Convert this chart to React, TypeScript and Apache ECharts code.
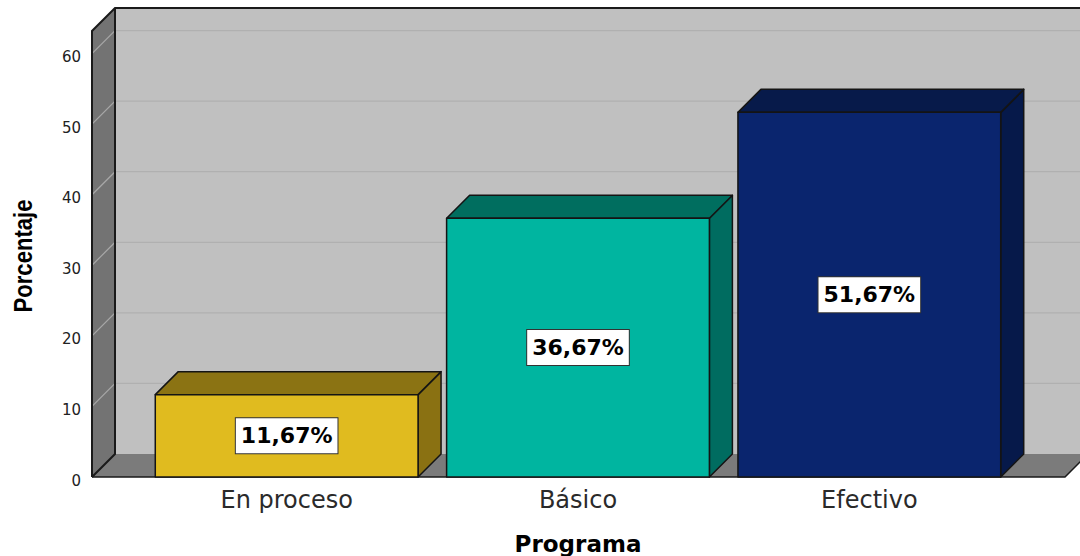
import React, { useEffect, useRef } from 'react';
import * as echarts from 'echarts';

const categories = ['En proceso', 'Básico', 'Efectivo'];
const percentages = [11.67, 36.67, 51.67];
const yTicks = [0, 10, 20, 30, 40, 50, 60];
const yMax = 63.2;
const xTitle = 'Programa';
const yTitle = 'Porcentaje';
const frontColors = ['#E0BB1F', '#00B5A0', '#0A256E'];
const topColors = ['#8B7313', '#006E5F', '#071A4A'];
const sideColors = ['#8A7112', '#006C60', '#06194A'];

const DEPTH = 23;
const PAD_L = 49;
const PAD_R = 50;

const fmt = (v: number) => v.toFixed(2).replace('.', ',') + '%';

export default function App() {
  const ref = useRef<HTMLDivElement>(null);
  useEffect(() => {
    const chart = echarts.init(ref.current!, null, { renderer: 'svg' });
    const wallsSeries: any = {
      type: 'custom',
      coordinateSystem: 'cartesian2d',
      clip: false,
      silent: true,
      z: 1,
      data: [[0, 0]],
      encode: { x: 0, y: 1 },
      renderItem: (params: any, api: any) => {
        const cs = params.coordSys;
        const D = DEPTH;
        const x0 = cs.x - PAD_L;
        const x1 = cs.x + cs.width + PAD_R;
        const yb = cs.y + cs.height;
        const yt = cs.y;
        const children: any[] = [];
        children.push({
          type: 'rect',
          shape: { x: x0 + D, y: yt - D, width: x1 - x0 + 30, height: yb - yt },
          style: { fill: '#C0C0C0' },
        });
        children.push({
          type: 'polygon',
          shape: { points: [[x0, yb], [x0, yt], [x0 + D, yt - D], [x0 + D, yb - D]] },
          style: { fill: '#737373' },
        });
        yTicks.forEach((t) => {
          const y = api.coord([0, t])[1];
          children.push({
            type: 'text',
            x: x0 - 11,
            y: y + 3.5,
            style: {
              text: String(t),
              font: '15px "DejaVu Sans"',
              fill: '#222',
              align: 'right',
              verticalAlign: 'middle',
            },
          });
          if (t === 0) return;
          children.push({
            type: 'line',
            shape: { x1: x0, y1: y, x2: x0 + D, y2: y - D },
            style: { stroke: '#A8A8A8', lineWidth: 1.2 },
          });
          children.push({
            type: 'line',
            shape: { x1: x0 + D, y1: y - D, x2: x1 + D + 30, y2: y - D },
            style: { stroke: '#B0B0B0', lineWidth: 1.3 },
          });
        });
        children.push({
          type: 'polygon',
          shape: { points: [[x0, yb], [x0 + D, yb - D], [x1 + D, yb - D], [x1, yb]] },
          style: { fill: '#7B7B7B' },
        });
        children.push({
          type: 'polyline',
          shape: { points: [[x0, yb], [x1, yb], [x1 + D, yb - D]] },
          style: { stroke: '#1A1A1A', lineWidth: 1.5, fill: null },
        });
        children.push({
          type: 'polyline',
          shape: { points: [[x0, yb], [x0, yt], [x0 + D, yt - D], [x1 + D + 30, yt - D]] },
          style: { stroke: '#1A1A1A', lineWidth: 2, fill: null },
        });
        children.push({
          type: 'polyline',
          shape: { points: [[x0 + D, yt - D], [x0 + D, yb - D], [x0, yb]] },
          style: { stroke: '#1A1A1A', lineWidth: 2, fill: null },
        });
        return { type: 'group', children };
      },
    };

    const barsSeries: any = {
      type: 'custom',
      coordinateSystem: 'cartesian2d',
      clip: false,
      z: 2,
      data: percentages.map((v, i) => [i, v]),
      encode: { x: 0, y: 1 },
      renderItem: (params: any, api: any) => {
        const i = api.value(0);
        const v = api.value(1);
        const D = DEPTH;
        const top = api.coord([i, v]);
        const base = api.coord([i, 0]);
        const band = api.size([1, 0])[0];
        const w = band * 0.902;
        const l = top[0] - w / 2;
        const r = top[0] + w / 2;
        const yt = top[1];
        const yb = base[1];
        const idx = params.dataIndex;
        const stroke = { stroke: '#141414', lineWidth: 1.5, lineJoin: 'round' };
        return {
          type: 'group',
          children: [
            {
              type: 'polygon',
              shape: { points: [[r, yb], [r, yt], [r + D, yt - D], [r + D, yb - D]] },
              style: { fill: sideColors[idx], ...stroke },
            },
            {
              type: 'polygon',
              shape: { points: [[l, yt], [l + D, yt - D], [r + D, yt - D], [r, yt]] },
              style: { fill: topColors[idx], ...stroke },
            },
            {
              type: 'rect',
              shape: { x: l, y: yt, width: w, height: yb - yt },
              style: { fill: frontColors[idx], ...stroke },
            },
            {
              type: 'text',
              x: top[0],
              y: (yt + yb) / 2,
              style: {
                text: fmt(v),
                font: 'bold 22px "DejaVu Sans"',
                fill: '#000',
                align: 'center',
                verticalAlign: 'middle',
                backgroundColor: '#FFFFFF',
                borderColor: '#333333',
                borderWidth: 1,
                padding: [6, 5, 5, 5],
                lineHeight: 24,
              },
            },
          ],
        };
      },
    };

    const option: any = {
      animation: false,
      backgroundColor: '#FFFFFF',
      grid: { left: 141, right: 65, top: 31, bottom: 79 },
      xAxis: {
        type: 'category',
        data: categories,
        axisLine: { show: false },
        axisTick: { show: false },
        splitLine: { show: false },
        axisLabel: { margin: 11, fontFamily: '"DejaVu Sans"', fontSize: 24, color: '#2A2A2A' },
      },
      yAxis: {
        type: 'value',
        min: 0,
        max: yMax,
        interval: 10,
        axisLine: { show: false },
        axisTick: { show: false },
        splitLine: { show: false },
        axisLabel: { show: false },
      },
      series: [wallsSeries, barsSeries],
      graphic: [
        {
          type: 'text',
          x: 578,
          y: 544,
          style: {
            text: xTitle,
            font: 'bold 23px "DejaVu Sans"',
            fill: '#000',
            align: 'center',
            verticalAlign: 'middle',
            textAlign: 'center',
            textVerticalAlign: 'middle',
          },
        },
        {
          type: 'text',
          x: 23,
          y: 256,
          rotation: Math.PI / 2,
          scaleX: 0.85,
          style: {
            text: yTitle,
            font: 'bold 26px "Liberation Sans"',
            fill: '#000',
            align: 'center',
            verticalAlign: 'middle',
            textAlign: 'center',
            textVerticalAlign: 'middle',
          },
        },
      ],
    };
    chart.setOption(option);
    return () => chart.dispose();
  }, []);
  return (
    <div
      ref={ref}
      style={{ position: 'fixed', left: 0, top: 0, width: 1080, height: 556 }}
    />
  );
}
